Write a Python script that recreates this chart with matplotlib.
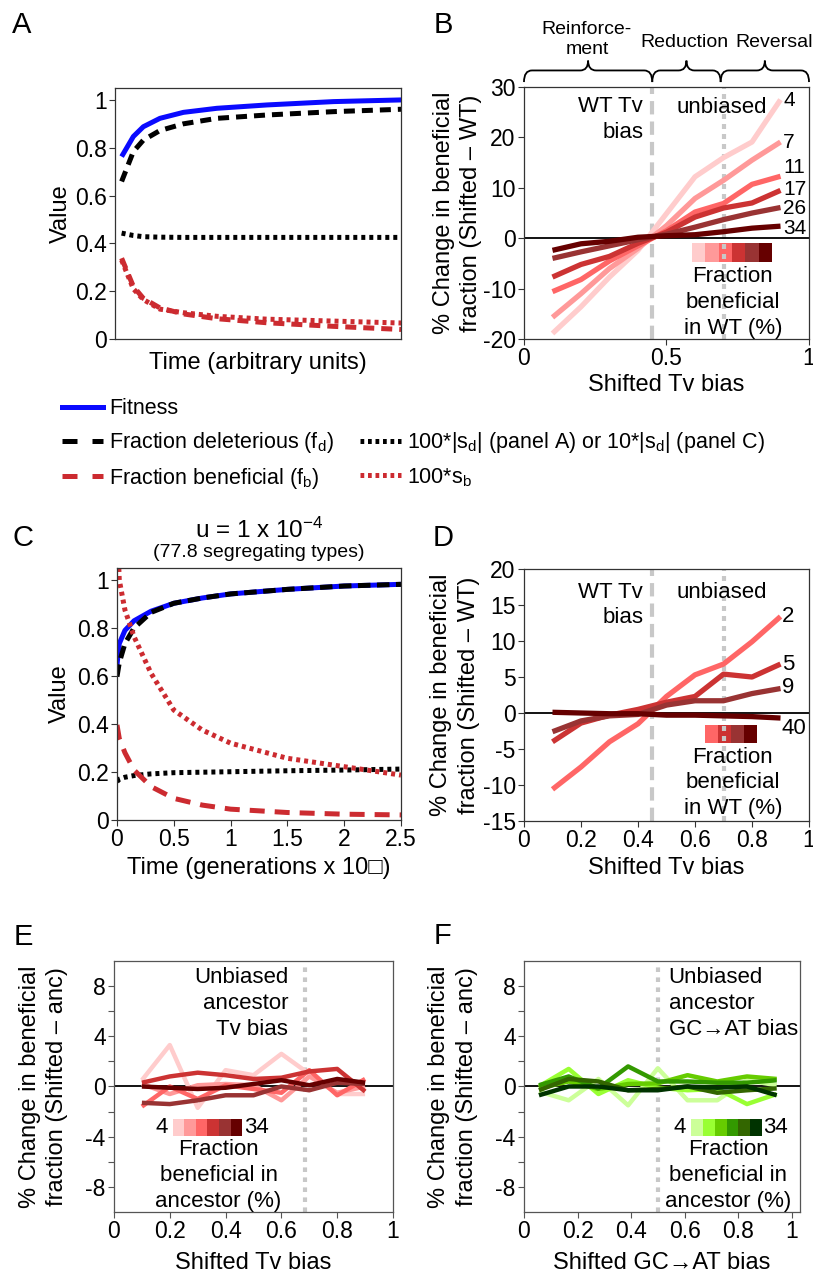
import matplotlib
matplotlib.use("Agg")
import matplotlib.pyplot as plt
import matplotlib.transforms as mtransforms
from matplotlib.lines import Line2D
from matplotlib.patches import Rectangle, PathPatch
from matplotlib.path import Path

plt.rcParams["font.family"] = ["Liberation Sans", "DejaVu Sans"]
plt.rcParams["axes.unicode_minus"] = False
plt.rcParams["mathtext.default"] = "regular"

# ---- panel A (arbitrary time units)
a_time = [0.023, 0.064, 0.099, 0.157, 0.239, 0.356, 0.531, 0.764, 1.0]
a_fitness = [0.763, 0.847, 0.888, 0.923, 0.948, 0.965, 0.979, 0.993, 1.0]
a_fd = [0.659, 0.784, 0.832, 0.872, 0.900, 0.923, 0.937, 0.951, 0.961]
a_sd = [0.443, 0.433, 0.428, 0.426, 0.425, 0.425, 0.425, 0.425, 0.425]
a_fb = [0.338, 0.22, 0.17, 0.13, 0.105, 0.085, 0.068, 0.053, 0.04]
a_sb = [0.33, 0.21, 0.165, 0.125, 0.11, 0.095, 0.083, 0.075, 0.067]

# ---- panel C (generations x 10^?)
c_time = [0.0, 0.02, 0.07, 0.15, 0.3, 0.5, 0.75, 1.0, 1.5, 2.0, 2.5]
c_fitness = [0.646, 0.735, 0.79, 0.83, 0.87, 0.903, 0.925, 0.942, 0.961, 0.975, 0.982]
c_fd = [0.597, 0.655, 0.735, 0.80, 0.865, 0.903, 0.925, 0.942, 0.961, 0.975, 0.982]
c_sd = [0.16, 0.17, 0.178, 0.185, 0.192, 0.197, 0.199, 0.201, 0.205, 0.208, 0.212]
c_sb = [1.25, 1.0, 0.875, 0.764, 0.611, 0.458, 0.375, 0.32, 0.257, 0.222, 0.187]
c_fb = [0.396, 0.34, 0.28, 0.208, 0.139, 0.09, 0.062, 0.045, 0.031, 0.024, 0.021]

# ---- panel B
tv_bias = [0.1, 0.2, 0.3, 0.4, 0.5, 0.6, 0.7, 0.8, 0.9]
b_labels = ["4", "7", "11", "17", "26", "34"]
b_label_y = [27.4, 19.0, 14.0, 9.6, 5.9, 2.0]
b_series = [
    [-18.9, -13.6, -7.7, -2.4, 4.9, 12.2, 16.0, 19.1, 27.5],
    [-15.7, -11.0, -6.0, -2.0, 2.5, 7.9, 11.5, 15.5, 19.1],
    [-10.6, -8.2, -4.5, -1.5, 1.5, 5.2, 6.9, 10.7, 12.3],
    [-7.7, -5.2, -3.6, -1.0, 1.2, 4.2, 6.0, 7.0, 9.5],
    [-4.0, -2.7, -1.5, -0.3, 0.8, 2.2, 3.7, 5.0, 6.1],
    [-2.4, -1.1, -0.6, 0.2, 0.5, 0.7, 1.3, 2.0, 2.4],
]
regions = ["Reinforce-\nment", "Reduction", "Reversal"]
region_edges = [0.0, 0.45, 0.69, 1.0]

# ---- panel D
d_labels = ["2", "5", "9", "40"]
d_label_y = [13.4, 6.8, 3.5, -2.1]
d_series = [
    [-10.6, -7.5, -4.0, -1.5, 2.3, 5.3, 6.8, 9.9, 13.4],
    [-4.0, -1.4, -0.3, 0.5, 1.5, 2.3, 5.4, 5.0, 6.8],
    [-2.6, -1.1, -0.4, -0.2, 1.1, 1.7, 1.7, 2.7, 3.4],
    [0.1, 0.0, -0.1, -0.1, -0.3, -0.3, -0.4, -0.5, -0.7],
]

# ---- panel E
e_series = [
    [0.5, 3.3, -1.7, 1.3, 0.9, 2.6, 1.0, -0.6, -0.6],
    [0.2, -0.6, 0.1, 0.2, 0.1, -1.1, 0.8, -0.5, 0.0],
    [-1.6, 0.0, -1.0, 0.1, -0.2, -0.5, 1.3, -0.7, 0.6],
    [0.3, 0.8, 1.1, 0.9, 0.6, 0.7, 1.2, 1.4, -0.4],
    [-1.3, -1.4, -1.1, -0.7, -0.7, 0.0, -0.3, 0.3, 0.2],
    [0.0, -0.1, -0.2, -0.1, 0.2, 0.5, 0.1, 0.6, 0.3],
]

# ---- panel F
gc_bias = [0.056, 0.167, 0.278, 0.389, 0.5, 0.611, 0.722, 0.833, 0.944]
f_series = [
    [-0.4, -1.1, 0.6, -1.5, 1.45, -1.1, -1.1, 0.5, 0.1],
    [0.0, 1.4, -0.6, 0.5, -0.1, -0.3, -0.2, -1.4, -0.6],
    [-0.15, 0.4, -0.2, 0.2, 0.25, 0.9, 0.4, 0.8, 0.6],
    [0.1, 0.8, -0.15, 1.6, 0.4, 0.4, 0.3, 0.3, 0.5],
    [-0.3, 0.6, 0.4, -0.3, -0.2, 0.0, -0.5, -0.3, -0.15],
    [-0.7, 0.0, 0.0, -0.3, -0.3, 0.0, -0.1, 0.0, -0.7],
]

reds = ["#ffcccc", "#ff9999", "#ff6666", "#cc3333", "#993333", "#660000"]
greens = ["#ccff99", "#99ff33", "#66cc00", "#339900", "#336600", "#003300"]
blue = "#0a0aff"
red = "#cc2b30"
gray = "#c8c8c8"
FS = 16        # annotations
TS = 16.5      # tick labels
LS = 17        # axis labels
LSP = 1.3
ARROW = "\u2192"


def style(ax, spine="#333333"):
    for s in ax.spines.values():
        s.set_color(spine)
        s.set_linewidth(0.9)
    ax.tick_params(direction="out", length=4, width=0.8, labelsize=TS, pad=2,
                   color=spine, which="both")


def swatch(ax, x0, x1, y0, y1, colors):
    w = (x1 - x0) / len(colors)
    for i, c in enumerate(colors):
        ax.add_patch(Rectangle((x0 + i * w, y0), w, y1 - y0, color=c, lw=0))


def brace(ax, x0, x1):
    trans = mtransforms.blended_transform_factory(ax.transData, ax.transAxes)
    xm = (x0 + x1) / 2
    yb, yl, yt, d = 1.02, 1.066, 1.105, 0.028
    verts = [(x0, yb), (x0, yl), (x0 + d, yl), (xm - d, yl), (xm, yl), (xm, yt),
             (xm, yl), (xm + d, yl), (x1 - d, yl), (x1, yl), (x1, yb)]
    codes = [Path.MOVETO, Path.CURVE3, Path.CURVE3, Path.LINETO, Path.CURVE3,
             Path.CURVE3, Path.CURVE3, Path.CURVE3, Path.LINETO, Path.CURVE3,
             Path.CURVE3]
    ax.add_patch(PathPatch(Path(verts, codes), fill=False, lw=1.3,
                           transform=trans, clip_on=False))


fig = plt.figure(figsize=(8.13, 12.75), dpi=100)

# ================= A
axA = fig.add_axes([0.1415, 0.7341, 0.3518, 0.1969])
axA.plot(a_time, a_fitness, color=blue, lw=3.6, solid_capstyle="butt")
axA.plot(a_time, a_fd, color="k", lw=3.6, dashes=(2.2, 1.4))
axA.plot(a_time, a_sd, color="k", lw=3.6, dashes=(0.8, 0.8))
axA.plot(a_time, a_fb, color=red, lw=3.6, dashes=(2.2, 1.4))
axA.plot(a_time, a_sb, color=red, lw=3.6, dashes=(0.8, 0.8))
axA.set_xlim(0, 1)
axA.set_ylim(0, 1.05)
axA.set_xticks([])
axA.set_yticks([0, 0.2, 0.4, 0.6, 0.8, 1])
axA.set_yticklabels(["0", "0.2", "0.4", "0.6", "0.8", "1"])
style(axA)
axA.set_ylabel("Value", fontsize=LS, va="center")
axA.yaxis.set_label_coords(-0.19, 0.5)
axA.set_xlabel("Time (arbitrary units)", fontsize=LS, va="center")
axA.xaxis.set_label_coords(0.5, -0.096)

# ================= B
axB = fig.add_axes([0.6445, 0.7341, 0.3506, 0.1976])
axB.axvline(0.45, color=gray, lw=3, dashes=(3.2, 1.7))
axB.axvline(0.70, color=gray, lw=3, dashes=(1.2, 1.2))
axB.axhline(0, color="k", lw=1.3)
for vals, c, lab, ly in zip(b_series, reds, b_labels, b_label_y):
    axB.plot(tv_bias, vals, color=c, lw=3.8, solid_capstyle="butt")
    axB.text(0.91, ly, lab, fontsize=15, ha="left", va="center")
axB.set_xlim(0, 1)
axB.set_ylim(-20, 30)
axB.set_xticks([0, 0.5, 1])
axB.set_xticklabels(["0", "0.5", "1"])
axB.set_yticks([-20, -10, 0, 10, 20, 30])
axB.set_yticklabels(["-20", "-10", "0", "10", "20", "30"])
style(axB)
axB.text(0.418, 23.5, "WT Tv\nbias", fontsize=FS, ha="right", va="center",
         multialignment="right", linespacing=LSP)
axB.text(0.695, 26.0, "unbiased", fontsize=FS, ha="center", va="center")
swatch(axB, 0.59, 0.87, -4.76, -1.0, reds)
axB.text(0.733, -12.7, "Fraction\nbeneficial\nin WT (%)", fontsize=FS,
         ha="center", va="center", linespacing=LSP)
for i, name in enumerate(regions):
    brace(axB, region_edges[i], region_edges[i + 1])
axB.text(0.221, 1.19, regions[0], transform=axB.transAxes, fontsize=14,
         ha="center", va="center", linespacing=1.2)
axB.text(0.562, 1.175, regions[1], transform=axB.transAxes, fontsize=14,
         ha="center", va="center")
axB.text(0.878, 1.175, regions[2], transform=axB.transAxes, fontsize=14,
         ha="center", va="center")
axB.set_ylabel("% Change in beneficial\nfraction (Shifted \u2013 WT)",
               fontsize=LS, va="center", linespacing=1.3)
axB.yaxis.set_label_coords(-0.232, 0.5)
axB.set_xlabel("Shifted Tv bias", fontsize=LS, va="center")
axB.xaxis.set_label_coords(0.5, -0.183)

# ================= legend
blank = Line2D([], [], alpha=0)
handles = [
    Line2D([], [], color=blue, lw=3.6),
    Line2D([], [], color="k", lw=3.6, dashes=(3, 3)),
    Line2D([], [], color=red, lw=3.6, dashes=(3, 3)),
    blank,
    Line2D([], [], color="k", lw=3.6, dashes=(0.75, 0.75)),
    Line2D([], [], color=red, lw=3.6, dashes=(0.75, 0.75)),
]
labels = [
    "Fitness",
    "Fraction deleterious (f$_\\mathregular{d}$)",
    "Fraction beneficial (f$_\\mathregular{b}$)",
    "",
    "100*|s$_\\mathregular{d}$| (panel A) or 10*|s$_\\mathregular{d}$| (panel C)",
    "100*s$_\\mathregular{b}$",
]
fig.legend(handles, labels, ncol=2, loc="upper left",
           bbox_to_anchor=(0.0763, 0.6875), frameon=False, fontsize=15.5,
           handlelength=1.9, handletextpad=0.3, columnspacing=1.2,
           labelspacing=0.5, borderpad=0, borderaxespad=0)

# ================= C
axC = fig.add_axes([0.1439, 0.3569, 0.3493, 0.1976])
axC.plot(c_time, c_fitness, color=blue, lw=3.6, solid_capstyle="butt")
axC.plot(c_time, c_fd, color="k", lw=3.6, dashes=(2.5, 1.3))
axC.plot(c_time, c_sd, color="k", lw=3.6, dashes=(0.8, 0.8))
axC.plot(c_time, c_sb, color=red, lw=3.6, dashes=(0.8, 0.8))
axC.plot(c_time, c_fb, color=red, lw=3.6, dashes=(3.0, 2.0))
axC.set_xlim(0, 2.5)
axC.set_ylim(0, 1.05)
axC.set_xticks([0, 0.5, 1, 1.5, 2, 2.5])
axC.set_xticklabels(["0", "0.5", "1", "1.5", "2", "2.5"])
axC.set_yticks([0, 0.2, 0.4, 0.6, 0.8, 1])
axC.set_yticklabels(["0", "0.2", "0.4", "0.6", "0.8", "1"])
style(axC)
axC.text(0.5, 1.15, "u = 1 x 10$^{\\mathregular{-4}}$", transform=axC.transAxes,
         fontsize=17.5, ha="center", va="center")
axC.text(0.5, 1.06, "(77.8 segregating types)", transform=axC.transAxes,
         fontsize=14, ha="center", va="center")
axC.set_ylabel("Value", fontsize=LS, va="center")
axC.yaxis.set_label_coords(-0.2, 0.5)
axC.set_xlabel("Time (generations x 10\u25a1)", fontsize=LS, va="center")
axC.xaxis.set_label_coords(0.5, -0.19)

# ================= D
axD = fig.add_axes([0.6445, 0.3561, 0.3506, 0.1976])
axD.axvline(0.45, color=gray, lw=3, dashes=(3.2, 1.7))
axD.axvline(0.70, color=gray, lw=3, dashes=(1.2, 1.2))
axD.axhline(0, color="k", lw=1.3)
d_colors = reds[2:]
for vals, c, lab, ly in zip(d_series, d_colors, d_labels, d_label_y):
    axD.plot(tv_bias, vals, color=c, lw=3.8, solid_capstyle="butt")
    axD.text(0.905, ly, lab, fontsize=FS, ha="left", va="center")
axD.set_xlim(0, 1)
axD.set_ylim(-15, 20)
axD.set_xticks([0, 0.2, 0.4, 0.6, 0.8, 1])
axD.set_xticklabels(["0", "0.2", "0.4", "0.6", "0.8", "1"])
axD.set_yticks([-15, -10, -5, 0, 5, 10, 15, 20])
axD.set_yticklabels(["-15", "-10", "-5", "0", "5", "10", "15", "20"])
style(axD)
axD.text(0.418, 15.0, "WT Tv\nbias", fontsize=FS, ha="right", va="center",
         multialignment="right", linespacing=LSP)
axD.text(0.695, 16.8, "unbiased", fontsize=FS, ha="center", va="center")
swatch(axD, 0.635, 0.818, -4.17, -1.67, d_colors)
axD.text(0.733, -9.7, "Fraction\nbeneficial\nin WT (%)", fontsize=FS,
         ha="center", va="center", linespacing=LSP)
axD.set_ylabel("% Change in beneficial\nfraction (Shifted \u2013 WT)",
               fontsize=LS, va="center", linespacing=1.3)
axD.yaxis.set_label_coords(-0.242, 0.5)
axD.set_xlabel("Shifted Tv bias", fontsize=LS, va="center")
axD.xaxis.set_label_coords(0.5, -0.187)


# ================= E and F
def bottom_panel(ax, xs, series, colors, vline, xlabel, note, note_x, note_ha,
                 sw, xmax):
    ax.axvline(vline, color=gray, lw=3, dashes=(1.1, 1.3))
    ax.axhline(0, color="k", lw=1.3)
    for vals, c in zip(series, colors):
        ax.plot(xs, vals, color=c, lw=3.2, solid_capstyle="butt")
    ax.set_xlim(0, xmax)
    ax.set_ylim(-10, 10)
    ax.set_xticks([0, 0.2, 0.4, 0.6, 0.8, 1])
    ax.set_xticklabels(["0", "0.2", "0.4", "0.6", "0.8", "1"])
    ax.set_yticks([-8, -4, 0, 4, 8])
    ax.set_yticklabels(["-8", "-4", "0", "4", "8"])
    ax.set_yticks([-6, -2, 2, 6], minor=True)
    style(ax, spine="#555555")
    ax.text(note_x, 6.6, note, fontsize=FS, ha=note_ha, va="center",
            multialignment=note_ha, linespacing=LSP)
    x0, x1, lx0, lx1, tx = sw
    swatch(ax, x0, x1, -3.94, -2.59, colors)
    ax.text(lx0, -3.3, "4", fontsize=FS, ha="center", va="center")
    ax.text(lx1, -3.3, "34", fontsize=FS, ha="center", va="center")
    ax.text(tx, -7.1, "Fraction\nbeneficial in\nancestor (%)", fontsize=FS,
            ha="center", va="center", linespacing=LSP)
    ax.set_ylabel("% Change in beneficial\nfraction (Shifted \u2013 anc)",
                  fontsize=LS, va="center", linespacing=1.3)
    ax.set_xlabel(xlabel, fontsize=LS, va="center")
    ax.xaxis.set_label_coords(0.5, -0.203)


axE = fig.add_axes([0.1402, 0.0494, 0.3432, 0.1969])
bottom_panel(axE, tv_bias, e_series, reds, 0.683, "Shifted Tv bias",
             "Unbiased\nancestor\nTv bias", 0.625, "right",
             (0.21, 0.46, 0.17, 0.51, 0.375), 1.0)
axE.yaxis.set_label_coords(-0.254, 0.5)

axF = fig.add_axes([0.6445, 0.0494, 0.3395, 0.1969])
bottom_panel(axF, gc_bias, f_series, greens, 0.5, "Shifted GC" + ARROW + "AT bias",
             "Unbiased\nancestor\nGC" + ARROW + "AT bias", 0.54, "left",
             (0.624, 0.889, 0.582, 0.938, 0.762), 1.031)
axF.yaxis.set_label_coords(-0.257, 0.5)

# panel letters
for lab, x, y in [("A", 22, 25), ("B", 443, 25), ("C", 23, 538),
                  ("D", 443, 538), ("E", 23, 937), ("F", 443, 936)]:
    fig.text(x / 813, 1 - y / 1275, lab, fontsize=21, ha="center", va="center")

fig.savefig("out.png", dpi=100)
